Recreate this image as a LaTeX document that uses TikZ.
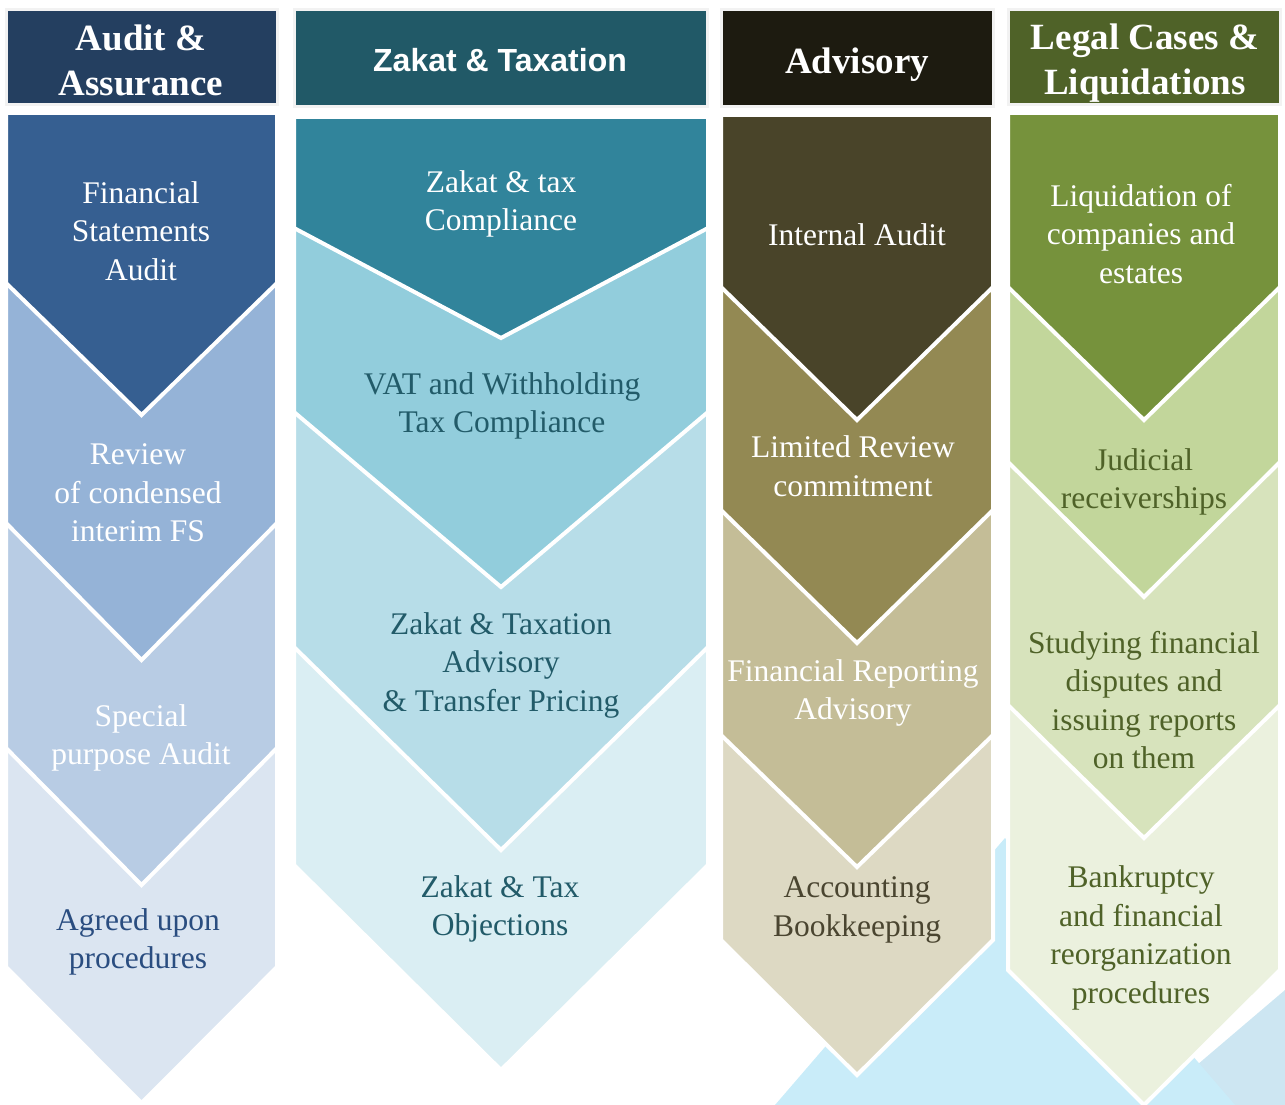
\documentclass[tikz,border=0pt]{standalone}
\usepackage{fontspec}
\setmainfont{Liberation Serif}
\newfontfamily\arialfont{Liberation Sans}

\definecolor{bgblue}{HTML}{C9ECF9}
\definecolor{bgblueb}{HTML}{CDE6F2}

\definecolor{auditH}{HTML}{243F60}
\definecolor{auditA}{HTML}{365F91}
\definecolor{auditB}{HTML}{95B3D7}
\definecolor{auditC}{HTML}{B8CCE4}
\definecolor{auditD}{HTML}{DBE5F1}
\definecolor{auditT}{HTML}{2A4D80}

\definecolor{zakatH}{HTML}{215967}
\definecolor{zakatA}{HTML}{31849B}
\definecolor{zakatB}{HTML}{92CDDC}
\definecolor{zakatC}{HTML}{B7DDE8}
\definecolor{zakatD}{HTML}{DAEEF3}
\definecolor{zakatT}{HTML}{225B69}

\definecolor{advH}{HTML}{1D1B10}
\definecolor{advA}{HTML}{494429}
\definecolor{advB}{HTML}{938953}
\definecolor{advC}{HTML}{C4BD97}
\definecolor{advD}{HTML}{DDD9C3}
\definecolor{advT}{HTML}{4A4530}

\definecolor{legalH}{HTML}{4F6228}
\definecolor{legalA}{HTML}{76923C}
\definecolor{legalB}{HTML}{C2D69B}
\definecolor{legalC}{HTML}{D7E3BC}
\definecolor{legalD}{HTML}{EBF1DE}
\definecolor{legalT}{HTML}{4F6228}

\begin{document}
\begin{tikzpicture}[x=1pt, y=-1pt,
  chev/.style={draw=white, line width=4pt, line join=miter},
  headbox/.style={draw=black!5, line width=3pt},
  item/.style={align=center, inner sep=0pt, font=\fontsize{31.5}{38.5}\selectfont},
  headtext/.style={align=center, inner sep=0pt, text=white, font=\fontsize{37}{45}\selectfont\bfseries}]
\useasboundingbox (0,0) rectangle (1285,1105);

\fill[bgblueb] (1285,990) -- (1285,1105) -- (1150,1105) -- cycle;
\fill[bgblue] (775,1105) -- (1005,838) -- (1235,1105) -- cycle;

\filldraw[headbox, fill=auditH] (6,10) rectangle (277,105);
\filldraw[headbox, fill=zakatH] (294,10) rectangle (707,107);
\filldraw[headbox, fill=advH] (721,10) rectangle (993,107);
\filldraw[headbox, fill=legalH] (1008,10) rectangle (1280,105);

\filldraw[chev, fill=auditD] (6,728) -- (277,728) -- (277,967) -- (141.5,1103) -- (6,967) -- cycle;
\filldraw[chev, fill=auditC] (6,503) -- (277,503) -- (277,748) -- (141.5,885) -- (6,748) -- cycle;
\filldraw[chev, fill=auditB] (6,263) -- (277,263) -- (277,523) -- (141.5,660) -- (6,523) -- cycle;
\filldraw[chev, fill=auditA] (6,113) -- (277,113) -- (277,283) -- (141.5,415) -- (6,283) -- cycle;

\filldraw[chev, fill=zakatD] (294,627) -- (708,627) -- (708,865) -- (501,1070) -- (294,865) -- cycle;
\filldraw[chev, fill=zakatC] (294,392) -- (708,392) -- (708,647) -- (501,850) -- (294,647) -- cycle;
\filldraw[chev, fill=zakatB] (294,208) -- (708,208) -- (708,412) -- (501,587) -- (294,412) -- cycle;
\filldraw[chev, fill=zakatA] (294,117) -- (708,117) -- (708,228) -- (501,338) -- (294,228) -- cycle;

\filldraw[chev, fill=advD] (721,715) -- (993,715) -- (993,940) -- (857,1075) -- (721,940) -- cycle;
\filldraw[chev, fill=advC] (721,490) -- (993,490) -- (993,735) -- (857,867) -- (721,735) -- cycle;
\filldraw[chev, fill=advB] (721,267) -- (993,267) -- (993,510) -- (857,643) -- (721,510) -- cycle;
\filldraw[chev, fill=advA] (721,115) -- (993,115) -- (993,287) -- (857,420) -- (721,287) -- cycle;

\filldraw[chev, fill=legalD] (1008,685) -- (1280,685) -- (1280,970) -- (1144,1105) -- (1008,970) -- cycle;
\filldraw[chev, fill=legalC] (1008,442) -- (1280,442) -- (1280,705) -- (1144,838) -- (1008,705) -- cycle;
\filldraw[chev, fill=legalB] (1008,267) -- (1280,267) -- (1280,462) -- (1144,597) -- (1008,462) -- cycle;
\filldraw[chev, fill=legalA] (1008,113) -- (1280,113) -- (1280,287) -- (1144,420) -- (1008,287) -- cycle;

\node[headtext] (auditHead) at (141,60) {Audit \&\\Assurance};
\node[headtext, font=\arialfont\fontsize{32}{38}\selectfont\bfseries] (zakatHead) at (500,60) {Zakat \& Taxation};
\node[headtext] (advHead) at (857,65) {Advisory};
\node[headtext] (legalHead) at (1145,63) {Legal Cases \&\\Liquidations};

\node[item, text=white] (fsAudit) at (141,231) {Financial\\Statements\\Audit};
\node[item, text=white] (review) at (138,493) {Review\\of condensed\\interim FS};
\node[item, text=white] (special) at (141,738) {Special\\purpose Audit};
\node[item, text=auditT] (agreed) at (138,942) {Agreed upon\\procedures};

\node[item, text=white] (taxComp) at (501,204) {Zakat \& tax\\Compliance};
\node[item, text=zakatT] (vat) at (502,406) {VAT and Withholding\\Tax Compliance};
\node[item, text=zakatT] (transfer) at (501,665) {Zakat \& Taxation\\Advisory\\\& Transfer Pricing};
\node[item, text=zakatT] (objections) at (500,909) {Zakat \& Tax\\Objections};

\node[item, text=white] (internal) at (857,235) {Internal Audit};
\node[item, text=white] (limited) at (853,466) {Limited Review\\commitment};
\node[item, text=white] (reporting) at (853,693) {Financial Reporting\\Advisory};
\node[item, text=advT] (bookkeeping) at (857,910) {Accounting\\Bookkeeping};

\node[item, text=white] (liquidation) at (1141,234) {Liquidation of\\companies and\\estates};
\node[item, text=legalT] (judicial) at (1144,482) {Judicial\\receiverships};
\node[item, text=legalT] (disputes) at (1144,700) {Studying financial\\disputes and\\issuing reports\\on them};
\node[item, text=legalT] (bankruptcy) at (1141,938) {Bankruptcy\\and financial\\reorganization\\procedures};
\end{tikzpicture}
\end{document}
